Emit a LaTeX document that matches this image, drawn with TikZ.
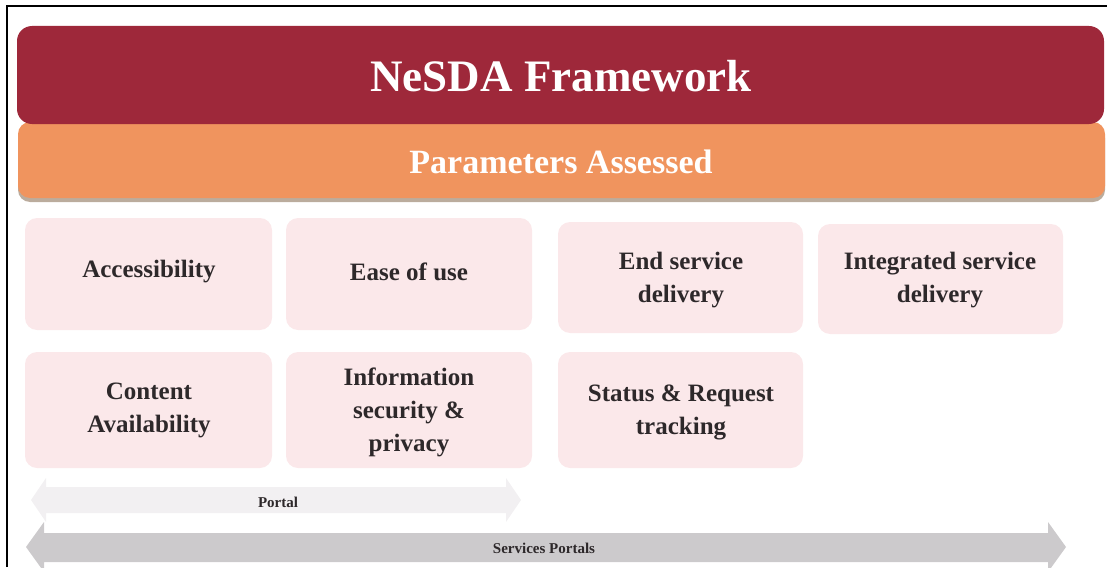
\documentclass[tikz,border=0pt]{standalone}
\usepackage{fontspec}
\setmainfont{Liberation Serif}
\usetikzlibrary{shadows}
\definecolor{maroon}{RGB}{158,40,58}
\definecolor{orangebar}{RGB}{240,148,94}
\definecolor{shadowbrown}{RGB}{120,90,60}
\definecolor{boxpink}{RGB}{251,232,234}
\definecolor{boxtext}{RGB}{45,40,42}
\definecolor{arrowgrey}{RGB}{204,202,204}
\definecolor{arrowlight}{RGB}{242,240,242}
\tikzset{
  param/.style={fill=boxpink, rounded corners=12pt, draw=none},
  paramtext/.style={text=boxtext, font=\fontsize{25}{33}\selectfont\bfseries, align=center},
  headtext/.style={text=white, font=\bfseries},
  smalllabel/.style={text=boxtext, font=\fontsize{15}{18}\selectfont\bfseries},
}
\begin{document}
\begin{tikzpicture}[x=1pt,y=-1pt]
\useasboundingbox (0,0) rectangle (1107,567);
% border
\draw[line width=2.5pt] (7,567) -- (7,6) -- (1107,6);
% header bars
\path[fill=orangebar, rounded corners=12pt, drop shadow={shadow xshift=0pt, shadow yshift=-4pt, fill=shadowbrown}] (18,122) rectangle (1105,198);
\path[fill=maroon, rounded corners=15pt] (17,26) rectangle (1104,124);
\node[headtext, font=\fontsize{45}{50}\selectfont\bfseries] (title) at (561,76) {NeSDA Framework};
\node[headtext, font=\fontsize{34}{40}\selectfont\bfseries] (params) at (561,162) {Parameters Assessed};
% parameter boxes
\path[param] (25,218) rectangle (272,330);
\node[paramtext] (acc) at (149,272) {Accessibility};
\path[param] (286,218) rectangle (532,330);
\node[paramtext] (ease) at (409,272) {Ease of use};
\path[param] (558,222) rectangle (803,333);
\node[paramtext] (end) at (681,280) {End service\\delivery};
\path[param] (818,224) rectangle (1063,334);
\node[paramtext] (integ) at (940,280) {Integrated service\\delivery};
\path[param] (25,352) rectangle (272,468);
\node[paramtext] (content) at (149,410) {Content\\Availability};
\path[param] (286,352) rectangle (532,468);
\node[paramtext] (info) at (409,412) {Information\\security \&\\privacy};
\path[param] (558,352) rectangle (803,468);
\node[paramtext] (status) at (681,412) {Status \& Request\\tracking};
% portal arrow
\fill[arrowlight] (31,500) -- (46,478) -- (46,487) -- (506,487) -- (506,478) -- (521,500) -- (506,522) -- (506,513) -- (46,513) -- (46,522) -- cycle;
\node[smalllabel] (portal) at (278,502) {Portal};
% services portals arrow
\fill[arrowgrey] (26,547) -- (44,522) -- (44,533) -- (1048,533) -- (1048,522) -- (1066,547) -- (1048,572) -- (1048,562) -- (44,562) -- (44,572) -- cycle;
\node[smalllabel] (services) at (544,548) {Services Portals};
\end{tikzpicture}
\end{document}
